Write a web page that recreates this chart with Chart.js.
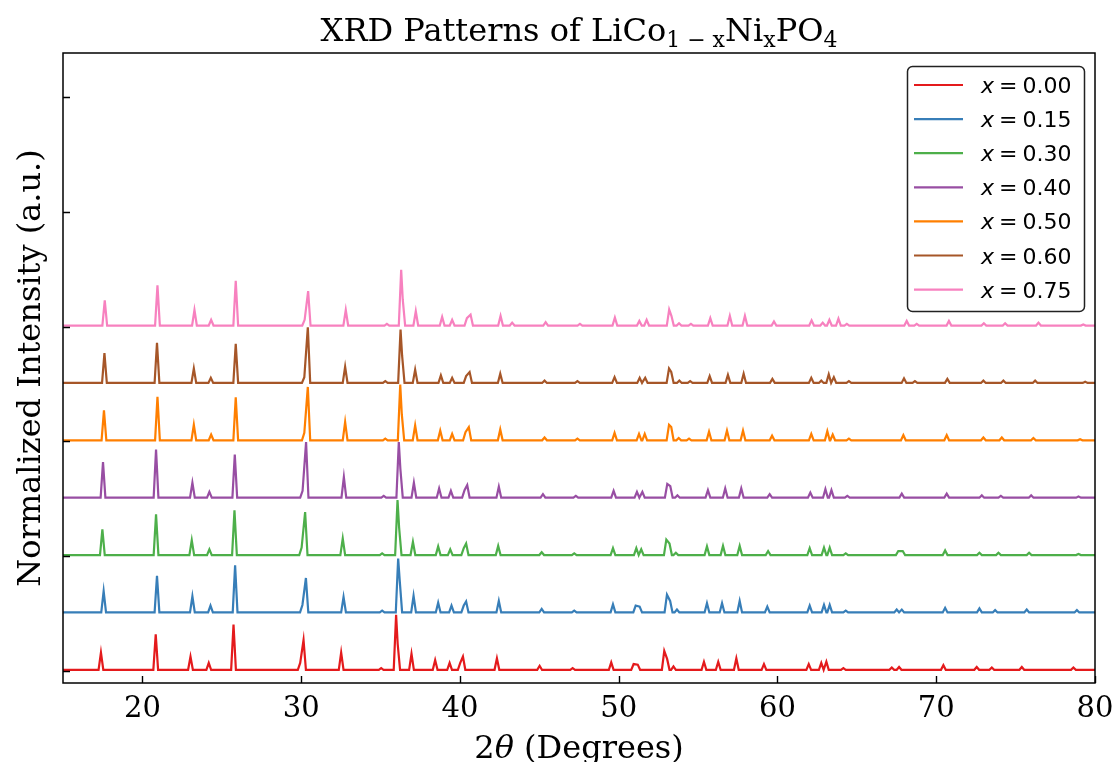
<!DOCTYPE html>
<html>
<head>
<meta charset="utf-8">
<script src="https://cdn.jsdelivr.net/npm/chart.js@4"></script>
<style>
html, body { margin: 0; padding: 0; background: #fff; }
canvas { display: block; }
</style>
</head>
<body>
<canvas id="xrdChart" width="1118" height="762"></canvas>
<script>
// composition values (legend) and colours
const compositions = ['0.00', '0.15', '0.30', '0.40', '0.50', '0.60', '0.75'];
const seriesColors = ['#e41a1c', '#377eb8', '#4daf4a', '#984ea3', '#ff7f00', '#a65628', '#f781bf'];
const offsets = [0, 1, 2, 3, 4, 5, 6];
const baseLevel = 0.02;
const xTicks = [20, 30, 40, 50, 60, 70, 80];
const yTicks = [0, 2, 4, 6, 8, 10];

// peak list per sample: [2theta, normalized height above background]
const peaks000 = [[17.39,0.30],[20.84,0.62],[23.03,0.23],[24.18,0.12],[25.74,0.79],[29.94,0.12],[30.15,0.52],[32.52,0.30],[35.04,0.03],[35.98,0.96],[36.08,0.45],[36.95,0.28],[38.44,0.17],[39.35,0.12],[40.02,0.12],[40.19,0.23],[42.33,0.20],[45.02,0.07],[47.1,0.03],[49.53,0.13],[50.94,0.10],[51.2,0.09],[52.87,0.33],[53.05,0.19],[53.45,0.06],[55.37,0.14],[56.27,0.14],[57.41,0.20],[59.15,0.10],[61.97,0.10],[62.76,0.12],[63.08,0.14],[64.15,0.03],[67.2,0.04],[67.66,0.05],[70.45,0.08],[72.55,0.05],[73.5,0.04],[75.39,0.05],[78.64,0.04]];
const peaks015 = [[17.56,0.37],[20.92,0.64],[23.15,0.28],[24.29,0.12],[25.84,0.82],[30.08,0.13],[30.3,0.60],[32.67,0.27],[35.1,0.03],[36.11,0.94],[36.21,0.55],[37.08,0.29],[38.63,0.17],[39.47,0.12],[40.24,0.12],[40.39,0.19],[42.45,0.20],[45.15,0.06],[47.2,0.03],[49.64,0.14],[51.07,0.12],[51.32,0.10],[53.04,0.31],[53.24,0.20],[53.67,0.05],[55.56,0.16],[56.51,0.16],[57.62,0.20],[59.36,0.10],[62.03,0.12],[62.93,0.13],[63.29,0.13],[64.3,0.03],[67.51,0.05],[67.83,0.05],[70.56,0.08],[72.72,0.07],[73.71,0.04],[75.7,0.05],[78.86,0.04]];
const peaks030 = [[17.48,0.45],[20.86,0.71],[23.11,0.26],[24.22,0.10],[25.8,0.78],[30.03,0.13],[30.25,0.75],[32.62,0.29],[35.1,0.03],[36.07,0.96],[36.17,0.48],[37.04,0.23],[38.63,0.15],[39.39,0.10],[40.24,0.12],[40.39,0.20],[42.41,0.16],[45.15,0.05],[47.2,0.03],[49.64,0.12],[51.11,0.12],[51.42,0.10],[53.0,0.27],[53.2,0.20],[53.6,0.04],[55.56,0.15],[56.57,0.16],[57.62,0.16],[59.41,0.07],[62.03,0.12],[62.93,0.13],[63.29,0.13],[64.3,0.03],[67.61,0.07],[67.89,0.07],[70.56,0.08],[72.72,0.04],[73.92,0.04],[75.85,0.04],[78.96,0.02]];
const peaks040 = [[17.52,0.62],[20.86,0.84],[23.15,0.26],[24.22,0.10],[25.82,0.75],[30.09,0.12],[30.31,0.97],[32.69,0.36],[35.2,0.03],[36.15,0.97],[36.25,0.50],[37.1,0.26],[38.69,0.16],[39.43,0.12],[40.29,0.13],[40.46,0.22],[42.45,0.19],[45.23,0.06],[47.3,0.03],[49.68,0.12],[51.15,0.10],[51.49,0.10],[53.06,0.24],[53.25,0.20],[53.7,0.04],[55.62,0.13],[56.71,0.16],[57.72,0.16],[59.51,0.06],[62.07,0.09],[63.02,0.15],[63.4,0.13],[64.4,0.03],[67.83,0.07],[70.66,0.07],[72.87,0.04],[74.07,0.03],[75.98,0.04],[78.96,0.02]];
const peaks050 = [[17.58,0.52],[20.95,0.76],[23.24,0.27],[24.33,0.10],[25.88,0.75],[30.2,0.13],[30.42,0.93],[32.77,0.32],[35.3,0.03],[36.24,0.97],[36.34,0.45],[37.18,0.26],[38.76,0.17],[39.51,0.11],[40.35,0.14],[40.56,0.23],[42.54,0.19],[45.33,0.05],[47.4,0.03],[49.74,0.13],[51.28,0.11],[51.64,0.11],[53.17,0.27],[53.31,0.23],[53.78,0.04],[54.43,0.03],[55.69,0.15],[56.82,0.17],[57.83,0.17],[59.66,0.08],[62.13,0.11],[63.14,0.16],[63.48,0.10],[64.5,0.03],[67.93,0.09],[70.66,0.09],[72.97,0.05],[74.13,0.05],[76.12,0.04],[79.06,0.02]];
const peaks060 = [[17.61,0.52],[20.92,0.70],[23.24,0.25],[24.31,0.09],[25.88,0.68],[30.2,0.10],[30.42,0.97],[32.77,0.28],[35.3,0.03],[36.26,0.93],[36.36,0.47],[37.18,0.23],[38.8,0.13],[39.51,0.09],[40.39,0.12],[40.61,0.19],[42.54,0.16],[45.33,0.04],[47.4,0.03],[49.74,0.10],[51.32,0.09],[51.67,0.09],[53.17,0.25],[53.31,0.19],[53.82,0.04],[54.5,0.03],[55.73,0.12],[56.88,0.14],[57.87,0.16],[59.68,0.07],[62.13,0.09],[62.76,0.04],[63.23,0.15],[63.55,0.10],[64.5,0.03],[67.97,0.08],[68.66,0.03],[70.7,0.07],[72.97,0.04],[74.23,0.04],[76.23,0.04],[79.38,0.02]];
const peaks075 = [[17.63,0.44],[20.95,0.70],[23.28,0.27],[24.33,0.10],[25.88,0.78],[30.22,0.10],[30.44,0.60],[32.81,0.27],[35.4,0.03],[36.3,0.97],[36.4,0.45],[37.22,0.25],[38.88,0.15],[39.51,0.10],[40.44,0.13],[40.67,0.19],[42.56,0.17],[43.29,0.05],[45.4,0.06],[47.56,0.03],[49.76,0.14],[51.3,0.08],[51.76,0.10],[53.18,0.28],[53.32,0.17],[53.8,0.04],[54.55,0.03],[55.77,0.13],[57.0,0.17],[57.95,0.17],[59.78,0.07],[62.15,0.09],[62.85,0.05],[63.27,0.10],[63.84,0.12],[64.37,0.03],[68.14,0.08],[68.77,0.03],[70.8,0.08],[73.0,0.04],[74.34,0.04],[76.44,0.05],[79.26,0.02]];

const allPeaks = [peaks000, peaks015, peaks030, peaks040, peaks050, peaks060, peaks075];

// turn a peak list into a polyline: background foot, apex, foot (close neighbours share no foot)
function buildTrace(peaks, offset) {
    const halfWidth = 0.15;
    const base = offset + baseLevel;
    const pts = [{ x: 15, y: base }];
    peaks.forEach(([pos, h], i) => {
        const prev = peaks[i - 1];
        const next = peaks[i + 1];
        if (!prev || pos - prev[0] >= 2 * halfWidth) pts.push({ x: pos - halfWidth, y: base });
        pts.push({ x: pos, y: base + h });
        if (!next || next[0] - pos >= 2 * halfWidth) pts.push({ x: pos + halfWidth, y: base });
    });
    pts.push({ x: 80, y: base });
    return pts;
}

function drawRich(ctx, parts, cx, baseline) {
    let total = 0;
    parts.forEach((p) => { ctx.font = p.font; p.w = ctx.measureText(p.t).width + (p.gap || 0); total += p.w; });
    let x = cx - total / 2;
    parts.forEach((p) => {
        ctx.font = p.font;
        ctx.fillText(p.t, x, baseline + (p.dy || 0));
        x += p.w;
    });
}

const decorPlugin = {
    id: 'decor',
    afterDraw(chart) {
        const ctx = chart.ctx;
        const area = chart.chartArea;
        const xs = chart.scales.x;
        const ys = chart.scales.y;
        ctx.save();
        ctx.fillStyle = '#000';
        ctx.strokeStyle = '#000';

        // frame
        ctx.lineWidth = 1.5;
        ctx.strokeRect(area.left, area.top, area.right - area.left, area.bottom - area.top);

        // inward ticks
        const tickLen = 7;
        ctx.lineWidth = 1.4;
        ctx.beginPath();
        xTicks.forEach((v) => {
            const px = Math.round(xs.getPixelForValue(v)) + 0.5;
            ctx.moveTo(px, area.bottom);
            ctx.lineTo(px, area.bottom - tickLen);
        });
        yTicks.forEach((v) => {
            const py = Math.round(ys.getPixelForValue(v)) + 0.5;
            ctx.moveTo(area.left, py);
            ctx.lineTo(area.left + tickLen, py);
        });
        ctx.stroke();

        // x tick labels
        ctx.font = '29px "DejaVu Serif"';
        ctx.textAlign = 'center';
        ctx.textBaseline = 'alphabetic';
        xTicks.forEach((v) => {
            ctx.fillText(String(v), xs.getPixelForValue(v), 717);
        });

        // axis titles
        ctx.textAlign = 'left';
        drawRich(ctx, [
            { t: '2', font: '32px "DejaVu Serif"' },
            { t: 'θ', font: 'italic 32px "DejaVu Serif"' },
            { t: ' (Degrees)', font: '32px "DejaVu Serif"' }
        ], (area.left + area.right) / 2, 758);

        ctx.save();
        ctx.translate(40, (area.top + area.bottom) / 2);
        ctx.rotate(-Math.PI / 2);
        ctx.textAlign = 'center';
        ctx.font = '32px "DejaVu Serif"';
        ctx.fillText('Normalized Intensity (a.u.)', 0, 0);
        ctx.restore();

        // title with subscripts
        ctx.textAlign = 'left';
        drawRich(ctx, [
            { t: 'XRD Patterns of LiCo', font: '32px "DejaVu Serif"' },
            { t: '1 − x', font: '22px "DejaVu Serif"', dy: 6 },
            { t: 'Ni', font: '32px "DejaVu Serif"' },
            { t: 'x', font: '22px "DejaVu Serif"', dy: 6 },
            { t: 'PO', font: '32px "DejaVu Serif"' },
            { t: '4', font: '22px "DejaVu Serif"', dy: 6 }
        ], (area.left + area.right) / 2, 41);

        // legend
        const box = { x: 907, y: 66, w: 177, h: 245 };
        ctx.beginPath();
        ctx.roundRect(box.x + 0.5, box.y + 0.5, box.w, box.h, 5);
        ctx.fillStyle = '#fff';
        ctx.fill();
        ctx.lineWidth = 1.5;
        ctx.strokeStyle = '#222';
        ctx.stroke();
        const rowH = 34.1;
        compositions.forEach((c, i) => {
            const cy = 85 + i * rowH;
            ctx.beginPath();
            ctx.strokeStyle = seriesColors[i];
            ctx.lineWidth = 2.2;
            ctx.moveTo(914, cy);
            ctx.lineTo(963, cy);
            ctx.stroke();
            ctx.fillStyle = '#000';
            let x = 981;
            ctx.font = 'italic 22px "DejaVu Sans"';
            ctx.fillText('x', x, cy + 8);
            x += ctx.measureText('x').width + 5;
            ctx.font = '22px "DejaVu Sans"';
            ctx.fillText('=', x, cy + 8);
            x += ctx.measureText('=').width + 5;
            ctx.fillText(c, x, cy + 8);
        });
        ctx.restore();
    }
};

const ctx = document.getElementById('xrdChart').getContext('2d');
const xrdChart = new Chart(ctx, {
    type: 'line',
    data: {
        datasets: allPeaks.map((peaks, i) => ({
            label: 'x = ' + compositions[i],
            data: buildTrace(peaks, offsets[i]),
            borderColor: seriesColors[i],
            backgroundColor: seriesColors[i],
            borderWidth: 2.2,
            pointRadius: 0,
            tension: 0,
            fill: false,
            order: offsets.length - i
        }))
    },
    options: {
        responsive: false,
        animation: false,
        layout: { padding: { left: 63, top: 53, right: 23, bottom: 79 } },
        plugins: { legend: { display: false }, tooltip: { enabled: false }, title: { display: false } },
        scales: {
            x: { type: 'linear', min: 15, max: 80, display: false },
            y: { type: 'linear', min: -0.21, max: 10.77, display: false }
        }
    },
    plugins: [decorPlugin]
});
</script>
</body>
</html>
